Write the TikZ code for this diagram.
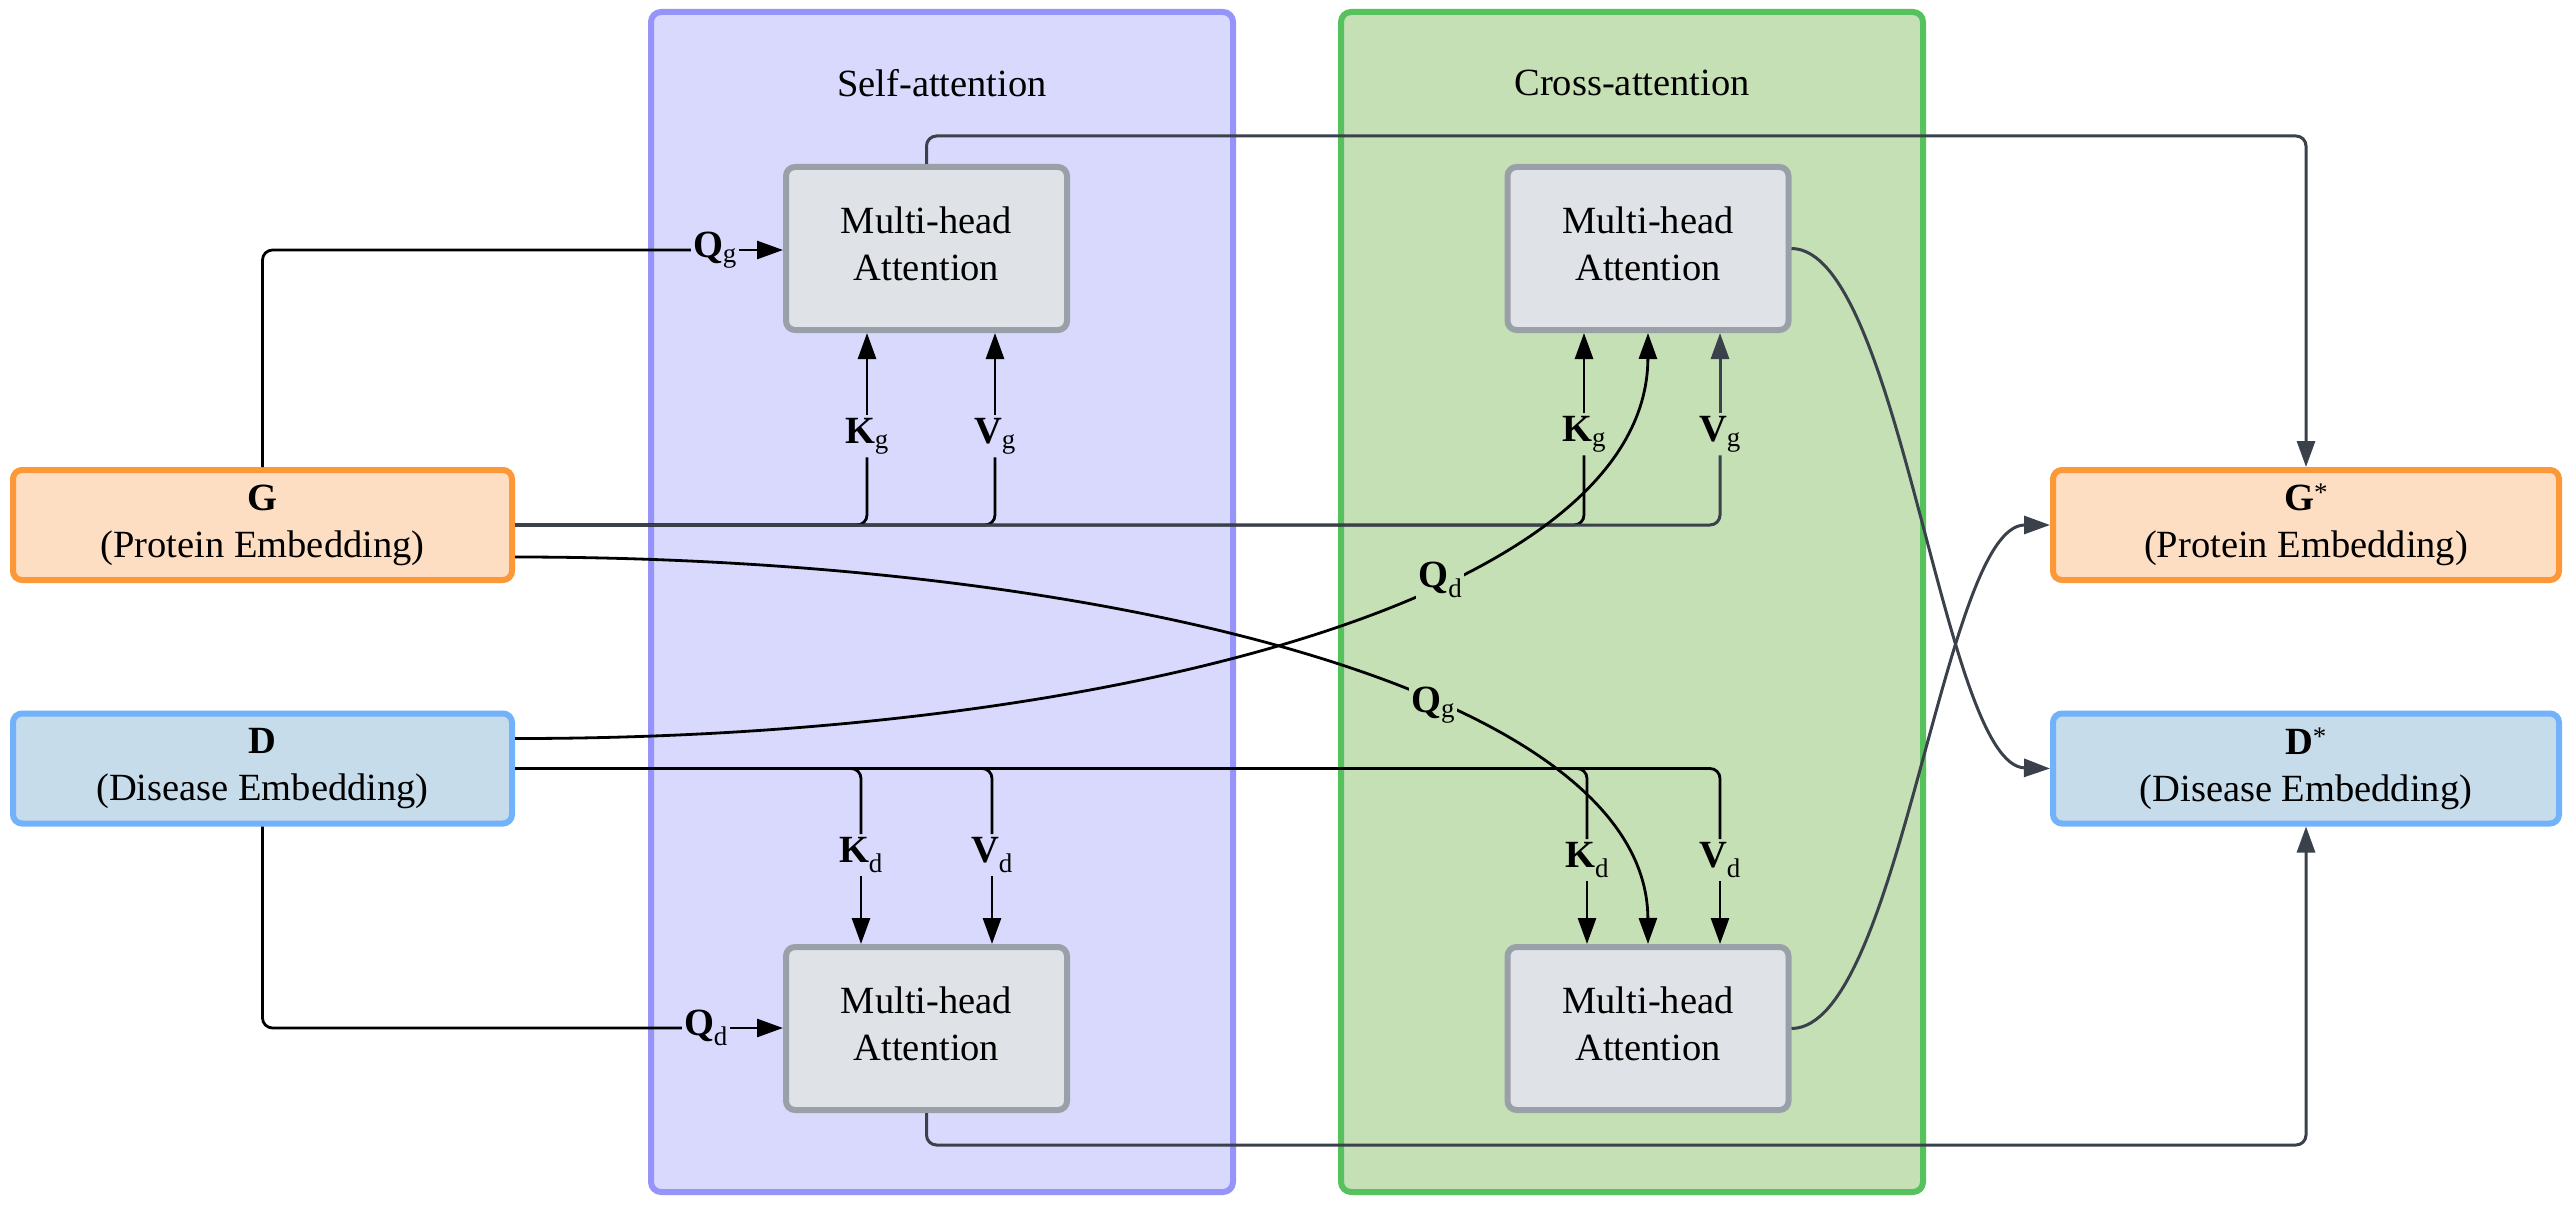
\documentclass[tikz,border=0pt]{standalone}
\usepackage{fontspec}
\setmainfont{Liberation Serif}
\usetikzlibrary{arrows.meta}
\definecolor{selfbg}{HTML}{D9D9FD}
\definecolor{selfbd}{HTML}{9694F8}
\definecolor{crossbg}{HTML}{C5E0B5}
\definecolor{crossbd}{HTML}{57C25D}
\definecolor{gbg}{HTML}{FDDEC2}
\definecolor{gbd}{HTML}{FD9838}
\definecolor{dbg}{HTML}{C7DCEB}
\definecolor{dbd}{HTML}{71B2FA}
\definecolor{mhabg}{HTML}{DFE2E7}
\definecolor{mhabd}{HTML}{9AA0A8}
\definecolor{darkln}{HTML}{3A414A}
\begin{document}
\begin{tikzpicture}[x=1pt,y=-1pt,
  every node/.style={font=\fontsize{38.5}{47}\selectfont},
  panel/.style={line width=6pt, rounded corners=10pt, inner sep=0pt, minimum width=582pt, minimum height=1180pt},
  emb/.style={line width=6pt, rounded corners=9pt, minimum height=110pt, align=center, inner sep=0pt},
  mha/.style={draw=mhabd, fill=mhabg, line width=6pt, rounded corners=9pt, minimum width=281pt, minimum height=163pt, align=center, inner sep=0pt, text depth=10pt},
  lbl/.style={inner xsep=2pt, inner ysep=3pt},
  blk/.style={line width=2.8pt, draw=black},
  gry/.style={line width=3pt, draw=darkln},
  tipb/.style={-{Triangle[length=26pt,width=18pt]}},
  rc/.style={rounded corners=10pt}
]
\useasboundingbox (0,0) rectangle (2570,1206);
\fill[white] (0,0) rectangle (2570,1206);

% panels
\node[panel, draw=selfbd, fill=selfbg] (selfp) at (942,602) {};
\node[panel, draw=crossbd, fill=crossbg] (crossp) at (1632,602) {};
\node (selft) at (942,83) {Self-attention};
\node (crosst) at (1632,83) {Cross-attention};

% embeddings
\node[emb, draw=gbd, fill=gbg, minimum width=499pt] (G) at (262.5,525) {\textbf{G}\\(Protein Embedding)};
\node[emb, draw=dbd, fill=dbg, minimum width=499pt] (D) at (262.5,768.5) {\textbf{D}\\(Disease Embedding)};
\node[emb, draw=gbd, fill=gbg, minimum width=506pt] (Gs) at (2306,525) {\textbf{G}\textsuperscript{*}\\(Protein Embedding)};
\node[emb, draw=dbd, fill=dbg, minimum width=506pt] (Ds) at (2306,768.5) {\textbf{D}\textsuperscript{*}\\(Disease Embedding)};

% attention blocks
\node[mha] (mSG) at (926.5,248.5) {Multi-head\\Attention};
\node[mha] (mSD) at (926.5,1028.5) {Multi-head\\Attention};
\node[mha] (mCG) at (1648,248.5) {Multi-head\\Attention};
\node[mha] (mCD) at (1648,1028.5) {Multi-head\\Attention};

% labels on straight connectors
\node[lbl] (qg1) at (715,250) {\textbf{Q}\textsubscript{g}};
\node[lbl] (qd1) at (706,1028) {\textbf{Q}\textsubscript{d}};
\node[lbl] (kg1) at (867,436) {\textbf{K}\textsubscript{g}};
\node[lbl] (vg1) at (995,436) {\textbf{V}\textsubscript{g}};
\node[lbl] (kg2) at (1584,434) {\textbf{K}\textsubscript{g}};
\node[lbl] (vg2) at (1720,434) {\textbf{V}\textsubscript{g}};
\node[lbl] (kd1) at (861,855) {\textbf{K}\textsubscript{d}};
\node[lbl] (vd1) at (992,855) {\textbf{V}\textsubscript{d}};
\node[lbl] (kd2) at (1587,860) {\textbf{K}\textsubscript{d}};
\node[lbl] (vd2) at (1720,860) {\textbf{V}\textsubscript{d}};

% queries in self-attention
\draw[blk, rc] (G.north) |- (qg1.west);
\draw[blk, tipb] (qg1.east) -- (mSG.west |- qg1.east);
\draw[blk, rc] (D.south) |- (qd1.west);
\draw[blk, tipb] (qd1.east) -- (mSD.west |- qd1.east);

% D keys / values
\draw[blk, rc] (D.east) -| (kd1.north);
\draw[blk, tipb] (kd1.south) -- (kd1.south |- mSD.north);
\draw[blk, rc] (D.east) -| (vd1.north);
\draw[blk, tipb] (vd1.south) -- (vd1.south |- mSD.north);
\draw[blk, rc] (D.east) -| (kd2.north);
\draw[blk, tipb] (kd2.south) -- (kd2.south |- mCD.north);
\draw[blk, rc] (D.east) -| (vd2.north);
\draw[blk, tipb] (vd2.south) -- (vd2.south |- mCD.north);

% G keys / values
\draw[blk, rc] (G.east) -| (kg1.south);
\draw[blk, tipb] (kg1.north) -- (kg1.north |- mSG.south);
\draw[blk, rc] (G.east) -| (vg1.south);
\draw[blk, tipb] (vg1.north) -- (vg1.north |- mSG.south);
\draw[blk, rc] (G.east) -| (kg2.south);
\draw[blk, tipb] (kg2.north) -- (kg2.north |- mCG.south);
\draw[gry, rc] (G.east) -| (vg2.south);
\draw[gry, tipb] (vg2.north) -- (vg2.north |- mCG.south);

% cross queries
\draw[blk, tipb] ([yshift=30pt]D.east) .. controls (1100,739) and (1647,600) .. (mCG.south)
  node[lbl, fill=crossbg, pos=0.622] (qd2) {\textbf{Q}\textsubscript{d}};
\draw[blk, tipb] ([yshift=-32pt]G.east) .. controls (1100,557) and (1647,690) .. (mCD.north)
  node[lbl, fill=crossbg, pos=0.615] (qg2) {\textbf{Q}\textsubscript{g}};

% outputs
\draw[gry, rc, tipb] (mSG.north) -- ++(0,-28) -| (Gs.north);
\draw[gry, rc, tipb] (mSD.south) -- ++(0,32) -| (Ds.south);
\draw[gry, tipb] (mCG.east) .. controls (1900,249) and (1943,766) .. (Ds.west);
\draw[gry, tipb] (mCD.east) .. controls (1900,1028) and (1943,525) .. (Gs.west);
\end{tikzpicture}
\end{document}
